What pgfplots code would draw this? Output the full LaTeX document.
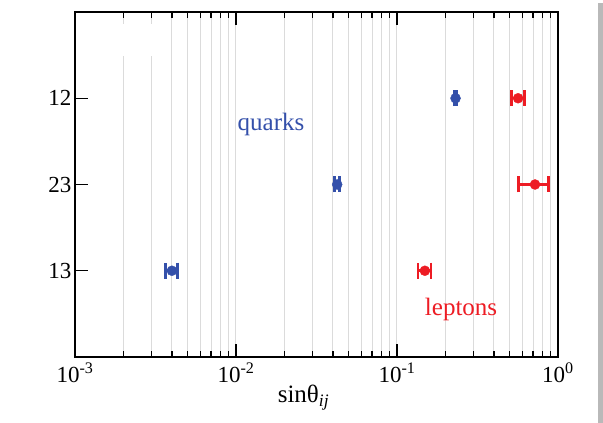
\documentclass[border=0pt]{standalone}
\usepackage{fontspec}
\setmainfont{Liberation Serif}
\usepackage{pgfplots}
\pgfplotsset{compat=1.18}
\definecolor{qblue}{RGB}{52,80,170}
\definecolor{lred}{RGB}{237,28,36}
\begin{document}
\begin{tikzpicture}
\path[use as bounding box] (0,0) rectangle (603pt,423pt);
\fill[gray!55] (597.5pt,0pt) rectangle (603pt,420pt);
\begin{axis}[
  at={(75pt,66pt)}, anchor=south west,
  scale only axis, width=483pt, height=345pt,
  xmode=log, xmin=1e-3, xmax=1, ymin=0, ymax=4,
  axis line style={line width=1.2pt},
  xtick={1e-3,1e-2,1e-1,1},
  xticklabels={10\textsuperscript{-3},10\textsuperscript{-2},10\textsuperscript{-1},10\textsuperscript{0}},
  minor xtick={2e-3,3e-3,4e-3,5e-3,6e-3,7e-3,8e-3,9e-3,2e-2,3e-2,4e-2,5e-2,6e-2,7e-2,8e-2,9e-2,2e-1,3e-1,4e-1,5e-1,6e-1,7e-1,8e-1,9e-1},
  xminorgrids=true, xmajorgrids=true,
  grid style={black!14, line width=1pt},
  minor grid style={black!14, line width=1pt},
  tick align=inside, xtick pos=both, ytick pos=left,
  major tick length=13pt, minor tick length=6pt,
  tick style={line width=1.2pt, black},
  ytick={1,2,3}, yticklabels={13,23,12},
  y tick label style={font=\fontsize{23}{23}\selectfont},
  x tick label style={font=\fontsize{23}{23}\selectfont, yshift=-2pt},
  xlabel={sinθ\textsubscript{\textit{ij}}},
  xlabel style={font=\fontsize{25}{25}\selectfont, yshift=4pt, xshift=-13pt},
  clip=false,
]
\fill[white] (axis cs:1.6e-3,3.49) rectangle (axis cs:3.6e-3,3.86);
\addplot[only marks, mark=*, qblue, mark size=5pt,
  error bars/.cd, x dir=both, x explicit, error mark=|,
  error bar style={line width=2.5pt},
  error mark options={line width=2.6pt, mark size=8pt}]
  coordinates {
    (0.0040,1) +- (0.00035,0)
    (0.0425,2) +- (0.0015,0)
    (0.231,3) +- (0.003,0)
  };
\addplot[only marks, mark=*, lred, mark size=5pt,
  error bars/.cd, x dir=both, x explicit, error mark=|,
  error bar style={line width=2.5pt},
  error mark options={line width=2.6pt, mark size=8pt}]
  coordinates {
    (0.149,1) +- (0.014,0)
    (0.72,2) +- (0.15,0)
    (0.565,3) +- (0.052,0)
  };
\node[qblue, font=\fontsize{25}{25}\selectfont] at (axis cs:0.0165,2.70) {quarks};
\node[lred, font=\fontsize{25}{25}\selectfont] at (axis cs:0.25,0.55) {leptons};
\end{axis}
\end{tikzpicture}
\end{document}
